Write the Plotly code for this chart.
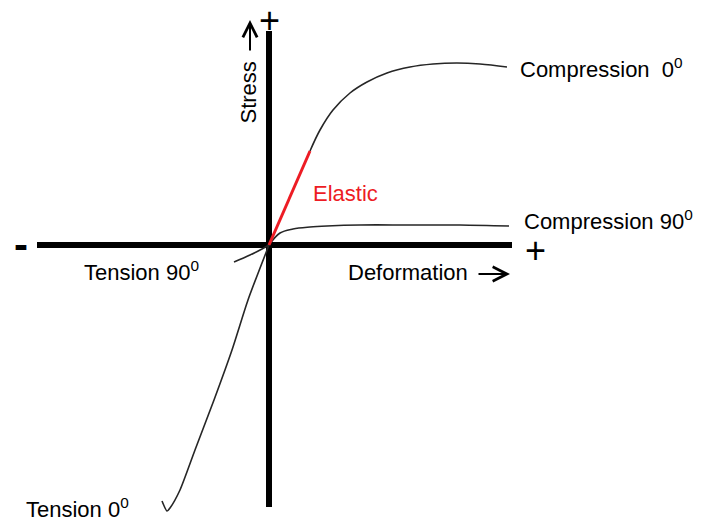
import plotly.graph_objects as go

# ---- data (deformation, stress) in arbitrary units ----
comp0_x = [4.1, 5.1, 6.4, 8.1, 9.8, 11.8, 14.1, 16.4, 18.8, 21.1, 23.8]
comp0_y = [9.4, 11.5, 13.5, 15.2, 16.3, 17.2, 17.8, 18.1, 18.2, 18.1, 17.8]

elastic_x = [0.0, 4.1]
elastic_y = [0.0, 9.4]

comp90_x = [0.0, 1.1, 2.4, 4.1, 5.8, 9.1, 14.1, 19.1, 24.0]
comp90_y = [0.0, 1.2, 1.6, 1.8, 1.9, 2.0, 2.0, 2.0, 1.9]

ten90_x = [-3.5, -1.9, -0.7, 0.0]
ten90_y = [-1.7, -1.0, -0.4, 0.0]

ten0_x = [0.0, -2.1, -3.7, -5.5, -7.4, -8.9, -9.9, -10.2, -10.7]
ten0_y = [0.0, -5.5, -10.5, -15.5, -20.5, -24.5, -26.3, -26.6, -25.6]

# axis extents (the cross of the diagram)
AXIS_X = [-23.2, 24.3]
AXIS_Y = [-26.2, 21.4]

FONT = "Liberation Sans, Arial, sans-serif"
CURVE = "#262626"
RED = "#ed1c24"

fig = go.Figure()

fig.add_trace(go.Scatter(x=comp0_x, y=comp0_y, mode="lines",
                         line=dict(color=CURVE, width=1.6, shape="spline")))
fig.add_trace(go.Scatter(x=comp90_x, y=comp90_y, mode="lines",
                         line=dict(color=CURVE, width=1.6, shape="spline")))
fig.add_trace(go.Scatter(x=ten90_x, y=ten90_y, mode="lines",
                         line=dict(color=CURVE, width=1.6, shape="spline")))
fig.add_trace(go.Scatter(x=ten0_x, y=ten0_y, mode="lines",
                         line=dict(color=CURVE, width=1.6, shape="spline",
                                   smoothing=0.6)))
fig.add_trace(go.Scatter(x=elastic_x, y=elastic_y, mode="lines",
                         line=dict(color=RED, width=3)))

# thick axes
fig.add_shape(type="line", x0=AXIS_X[0], x1=AXIS_X[1], y0=0, y1=0,
              line=dict(color="black", width=6), layer="below")
fig.add_shape(type="line", x0=0, x1=0, y0=AXIS_Y[0], y1=AXIS_Y[1],
              line=dict(color="black", width=6), layer="below")

def label(text, x, y, size=22, color="black", xanchor="left", textangle=0):
    fig.add_annotation(x=x, y=y, text=text, showarrow=False, xanchor=xanchor,
                       yanchor="middle", textangle=textangle,
                       font=dict(family=FONT, size=size, color=color))

label("Compression  0<sup>0</sup>", 24.9, 17.7)
label("Compression 90<sup>0</sup>", 25.3, 2.5)
label("Tension 90<sup>0</sup>", -18.7, -2.6)
label("Tension 0<sup>0</sup>", -24.5, -26.3)
label("Elastic", 4.2, 5.2, color=RED)
label("Deformation", 7.7, -2.7)
label("Stress", -2.1, 15.25, xanchor="center", textangle=-90)

# signs
label("+", 26.6, -0.5, size=36, xanchor="center")
label("+", 0.05, 22.5, size=36, xanchor="center")
label("<b>-</b>", -24.8, 0.03, size=42, xanchor="center")
label("<b>-</b>", 0.0, -27.8, size=42, xanchor="center")

# direction arrows
fig.add_annotation(x=24.1, y=-2.9, ax=20.8, ay=-2.9, axref="x", ayref="y",
                   text="", showarrow=True, arrowhead=5, arrowwidth=2,
                   arrowsize=1.4, arrowcolor="black")
fig.add_annotation(x=-1.9, y=22.5, ax=-1.9, ay=19.3, axref="x", ayref="y",
                   text="", showarrow=True, arrowhead=5, arrowwidth=2,
                   arrowsize=1.4, arrowcolor="black")

fig.update_layout(
    width=703, height=524,
    margin=dict(l=0, r=0, t=0, b=0),
    paper_bgcolor="white", plot_bgcolor="white",
    showlegend=False,
    xaxis=dict(range=[-26.9, 43.4], visible=False, fixedrange=True),
    yaxis=dict(range=[-27.9, 24.5], visible=False, fixedrange=True),
)

fig.write_html("out.html", config={"displayModeBar": False},
               post_script="document.body.style.margin='0';")
